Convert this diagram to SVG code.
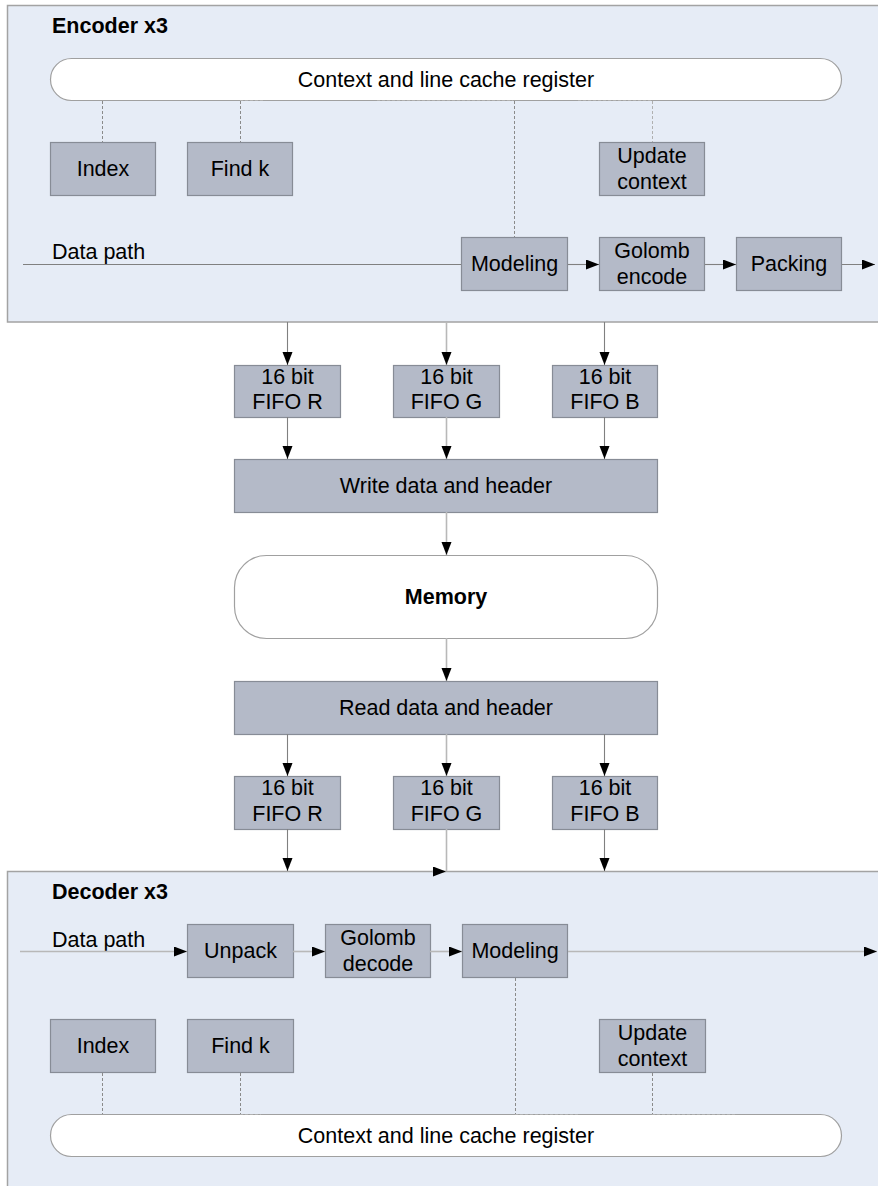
<svg xmlns="http://www.w3.org/2000/svg" width="878" height="1186" viewBox="0 0 878 1186">
  <defs>
    <marker id="arrow" markerUnits="userSpaceOnUse" markerWidth="14" markerHeight="11" refX="13" refY="5" orient="auto">
      <path d="M0,0 L13,5 L0,10 z" fill="#000"/>
    </marker>
    <style>
      .container { fill: #e6ecf6; stroke: #a3a3a3; stroke-width: 1.5; }
      .box { fill: #b4bac8; stroke: #878c96; stroke-width: 1.2; }
      .pill { fill: #ffffff; stroke: #a0a0a0; stroke-width: 1.2; }
      text { font-family: "Liberation Sans", Arial, sans-serif; font-size: 21.5px; fill: #000; }
      .c { text-anchor: middle; }
      .b { font-weight: bold; }
      .wire { fill: none; stroke: #808080; stroke-width: 1.1; }
      .wire-light { fill: none; stroke: #b8b8b8; stroke-width: 1.6; }
      .dash { fill: none; stroke: #8a8a8a; stroke-width: 1; stroke-dasharray: 3 2; }
      .dash-light { fill: none; stroke: #b0b0b0; stroke-width: 1; stroke-dasharray: 3 2; }
    </style>
  </defs>

  <rect width="878" height="1186" fill="#ffffff"/>

  <!-- Encoder -->
  <g id="encoder">
    <rect class="container" x="7.5" y="5.5" width="890" height="316.5"/>
    <text class="b" x="52" y="33">Encoder x3</text>
    <text x="52" y="259">Data path</text>
  </g>
  <g id="enc-context">
    <rect class="pill" x="50.5" y="58.5" width="791" height="42" rx="21" ry="21"/>
    <text class="c" x="446" y="86.5">Context and line cache register</text>
  </g>
  <g id="enc-index">
    <rect class="box" x="50.5" y="142.5" width="105" height="53"/>
    <text class="c" x="103" y="176">Index</text>
  </g>
  <g id="enc-findk">
    <rect class="box" x="187.5" y="142.5" width="105" height="53"/>
    <text class="c" x="240" y="176">Find k</text>
  </g>
  <g id="enc-update">
    <rect class="box" x="599.5" y="142.5" width="105" height="53"/>
    <text class="c" x="652" y="163">Update</text>
    <text class="c" x="652" y="189">context</text>
  </g>
  <g id="enc-modeling">
    <rect class="box" x="461.5" y="237.5" width="106" height="53"/>
    <text class="c" x="514.5" y="271">Modeling</text>
  </g>
  <g id="enc-golomb">
    <rect class="box" x="599.5" y="237.5" width="105" height="53"/>
    <text class="c" x="652" y="258">Golomb</text>
    <text class="c" x="652" y="284">encode</text>
  </g>
  <g id="enc-packing">
    <rect class="box" x="736.5" y="237.5" width="105" height="53"/>
    <text class="c" x="789" y="271">Packing</text>
  </g>

  <!-- FIFOs after the encoder -->
  <g id="fifo-r-in">
    <rect class="box" x="234.5" y="365.5" width="106" height="52"/>
    <text class="c" x="287.5" y="384">16 bit</text>
    <text class="c" x="287.5" y="409">FIFO R</text>
  </g>
  <g id="fifo-g-in">
    <rect class="box" x="393.5" y="365.5" width="106" height="52"/>
    <text class="c" x="446.5" y="384">16 bit</text>
    <text class="c" x="446.5" y="409">FIFO G</text>
  </g>
  <g id="fifo-b-in">
    <rect class="box" x="552.5" y="365.5" width="105" height="52"/>
    <text class="c" x="605" y="384">16 bit</text>
    <text class="c" x="605" y="409">FIFO B</text>
  </g>
  <g id="write">
    <rect class="box" x="234.5" y="459.5" width="423" height="53"/>
    <text class="c" x="446" y="493">Write data and header</text>
  </g>
  <g id="memory">
    <rect class="pill" x="234.5" y="555.5" width="423" height="83" rx="32" ry="32"/>
    <text class="c b" x="446" y="604">Memory</text>
  </g>
  <g id="read">
    <rect class="box" x="234.5" y="681.5" width="423" height="53"/>
    <text class="c" x="446" y="715">Read data and header</text>
  </g>
  <g id="fifo-r-out">
    <rect class="box" x="234.5" y="776.5" width="106" height="53"/>
    <text class="c" x="287.5" y="795">16 bit</text>
    <text class="c" x="287.5" y="821">FIFO R</text>
  </g>
  <g id="fifo-g-out">
    <rect class="box" x="393.5" y="776.5" width="106" height="53"/>
    <text class="c" x="446.5" y="795">16 bit</text>
    <text class="c" x="446.5" y="821">FIFO G</text>
  </g>
  <g id="fifo-b-out">
    <rect class="box" x="552.5" y="776.5" width="105" height="53"/>
    <text class="c" x="605" y="795">16 bit</text>
    <text class="c" x="605" y="821">FIFO B</text>
  </g>

  <!-- Decoder -->
  <g id="decoder">
    <rect class="container" x="7.5" y="871.5" width="890" height="330"/>
    <text class="b" x="52" y="899">Decoder x3</text>
    <text x="52" y="947">Data path</text>
  </g>
  <g id="dec-unpack">
    <rect class="box" x="187.5" y="924.5" width="106" height="53"/>
    <text class="c" x="240.5" y="958">Unpack</text>
  </g>
  <g id="dec-golomb">
    <rect class="box" x="325.5" y="924.5" width="105" height="53"/>
    <text class="c" x="378" y="945">Golomb</text>
    <text class="c" x="378" y="971">decode</text>
  </g>
  <g id="dec-modeling">
    <rect class="box" x="462.5" y="924.5" width="105" height="53"/>
    <text class="c" x="515" y="958">Modeling</text>
  </g>
  <g id="dec-index">
    <rect class="box" x="50.5" y="1019.5" width="105" height="53"/>
    <text class="c" x="103" y="1053">Index</text>
  </g>
  <g id="dec-findk">
    <rect class="box" x="187.5" y="1019.5" width="106" height="53"/>
    <text class="c" x="240.5" y="1053">Find k</text>
  </g>
  <g id="dec-update">
    <rect class="box" x="599.5" y="1019.5" width="106" height="53"/>
    <text class="c" x="652.5" y="1040">Update</text>
    <text class="c" x="652.5" y="1066">context</text>
  </g>
  <g id="dec-context">
    <rect class="pill" x="50.5" y="1114.5" width="791" height="42" rx="21" ry="21"/>
    <text class="c" x="446" y="1143">Context and line cache register</text>
  </g>

  <!-- Connectors -->
  <g id="connectors">
    <!-- encoder data path -->
    <path class="wire" d="M23,264.5 H461"/>
    <path class="wire" d="M568,264.5 H599" marker-end="url(#arrow)"/>
    <path class="wire" d="M705,264.5 H736" marker-end="url(#arrow)"/>
    <path class="wire" d="M842,264.5 H875" marker-end="url(#arrow)"/>

    <!-- encoder context links -->
    <path class="dash" d="M102.5,101 V142"/>
    <path class="dash" d="M240.5,101 V142"/>
    <path class="dash" d="M514.5,101 V237"/>
    <path class="dash-light" d="M652.5,101 V142"/>
    <path class="dash-light" d="M240,100.5 H263 M377,100.5 H513 M578,100.5 H652"/>

    <!-- encoder to FIFOs -->
    <path class="wire" d="M287.5,322 V365" marker-end="url(#arrow)"/>
    <path class="wire-light" d="M446.5,322 V365" marker-end="url(#arrow)"/>
    <path class="wire" d="M604.5,322 V365" marker-end="url(#arrow)"/>

    <!-- FIFOs to write -->
    <path class="wire" d="M287.5,417 V459" marker-end="url(#arrow)"/>
    <path class="wire-light" d="M446.5,417 V459" marker-end="url(#arrow)"/>
    <path class="wire" d="M604.5,417 V459" marker-end="url(#arrow)"/>

    <!-- write / memory / read -->
    <path class="wire-light" d="M446.5,512 V555" marker-end="url(#arrow)"/>
    <path class="wire-light" d="M446.5,638 V681" marker-end="url(#arrow)"/>

    <!-- read to FIFOs -->
    <path class="wire" d="M287.5,734 V776" marker-end="url(#arrow)"/>
    <path class="wire-light" d="M446.5,734 V776" marker-end="url(#arrow)"/>
    <path class="wire" d="M604.5,734 V776" marker-end="url(#arrow)"/>

    <!-- FIFOs to decoder -->
    <path class="wire" d="M287.5,829 V871" marker-end="url(#arrow)"/>
    <path class="wire-light" d="M446.5,829 V871 M432,871.5 H446" marker-end="url(#arrow)"/>
    <path class="wire" d="M604.5,829 V871" marker-end="url(#arrow)"/>

    <!-- decoder data path -->
    <path class="wire-light" d="M20,951.5 H187" marker-end="url(#arrow)"/>
    <path class="wire-light" d="M293,951.5 H325" marker-end="url(#arrow)"/>
    <path class="wire-light" d="M430,951.5 H462" marker-end="url(#arrow)"/>
    <path class="wire-light" d="M568,951.5 H877" marker-end="url(#arrow)"/>

    <!-- decoder context links -->
    <path class="dash" d="M102.5,1073 V1114"/>
    <path class="dash" d="M240.5,1073 V1114"/>
    <path class="dash" d="M515.5,978 V1114"/>
    <path class="dash" d="M652.5,1073 V1114"/>
    <path class="dash-light" d="M240,1114.5 H261 M515,1114.5 H578 M652,1114.5 H737"/>
  </g>
</svg>
